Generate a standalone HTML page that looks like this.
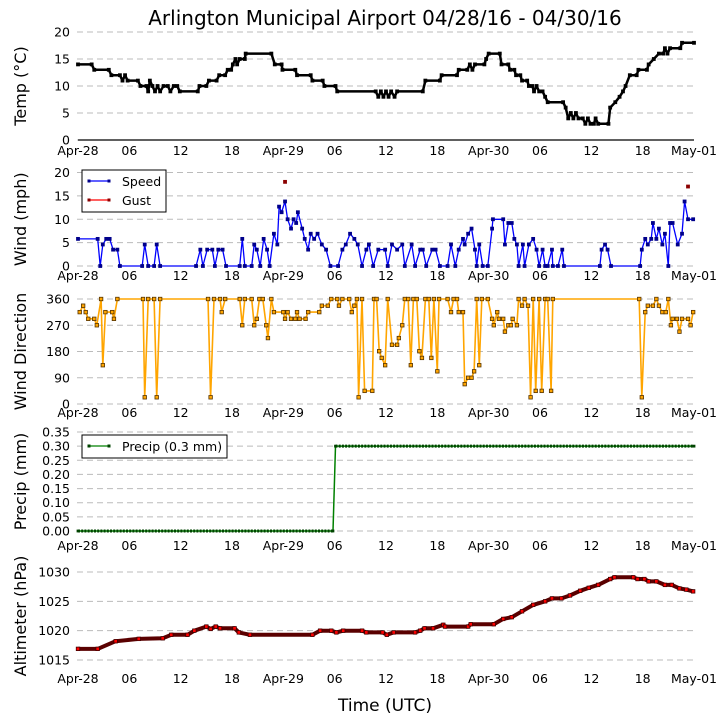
<!DOCTYPE html>
<html><head><meta charset="utf-8">
<style>
body{margin:0;background:#fff;}
svg{display:block;font-family:"DejaVu Sans","Liberation Sans",sans-serif;}
</style></head>
<body>
<svg id="chart" width="727" height="725" viewBox="0 0 727 725">
<text x="385" y="25" font-size="20" text-anchor="middle">Arlington Municipal Airport 04/28/16 - 04/30/16</text>
<text x="385" y="711" font-size="17" text-anchor="middle">Time (UTC)</text>
</svg>
<script>
const xTickLabels = ["Apr-28","06","12","18","Apr-29","06","12","18","Apr-30","06","12","18","May-01"];
const tempTicks = [0,5,10,15,20];
const windTicks = [0,5,10,15,20];
const dirTicks = [0,90,180,270,360];
const precipTicks = [0,0.05,0.10,0.15,0.20,0.25,0.30,0.35];
const altTicks = [1015,1020,1025,1030];

const tempT = [0,1.6,1.9,3.6,3.9,4.9,5.2,5.5,5.8,7.0,7.3,8.0,8.2,8.4,8.7,9.0,9.3,9.6,10.0,10.5,10.8,11.2,11.6,11.9,14.0,14.2,15.0,15.3,16.2,16.5,17.2,17.5,17.9,18.1,18.4,18.6,18.9,19.5,19.6,22.6,23.0,23.8,23.9,25.4,25.6,27.2,27.4,28.6,28.8,30.1,30.3,34.8,35.1,35.4,35.7,36.0,36.3,36.6,37.0,37.3,40.3,40.6,42.3,42.5,44.3,44.5,45.5,45.8,46.1,46.4,47.5,47.7,48.0,49.3,49.5,50.3,50.5,51.0,51.2,51.7,51.9,52.5,52.7,53.1,53.3,53.6,53.9,54.3,54.6,54.9,56.7,57.0,57.3,57.6,57.9,58.2,58.5,59.0,59.3,59.6,59.9,60.3,60.5,60.8,62.0,62.2,62.8,63.3,63.7,64.0,64.5,65.3,65.5,66.5,66.7,67.3,67.9,68.4,68.6,68.9,69.2,70.4,70.6,72.0];
const tempV = [14,14,13,13,12,12,11,12,11,11,10,10,9,11,10,9,10,9,10,10,9,10,10,9,9,10,10,11,11,12,12,13,13,14,15,14,15,15,16,16,14,14,13,13,12,12,11,11,10,10,9,9,8,9,8,9,8,9,8,9,9,11,11,12,12,13,13,14,13,14,14,15,16,16,14,14,13,13,12,12,11,11,10,10,9,10,9,9,8,7,7,6,4,5,4,5,4,4,3,4,3,3,4,3,3,6,7,8,9,10,12,12,13,13,14,15,16,16,17,16,17,17,18,18];

const windT = [0,2.3,2.6,2.9,3.3,3.7,4.1,4.6,4.9,7.5,7.8,8.2,8.9,9.2,9.6,13.8,14.3,14.6,15.1,15.7,16.0,16.4,16.9,17.3,18.9,19.2,19.5,20.3,20.6,20.9,21.3,21.7,22.1,22.4,22.9,23.3,23.5,23.8,24.2,24.5,24.9,25.2,25.5,25.7,26.2,26.5,26.9,27.2,27.6,28.0,28.5,29.0,29.5,30.4,30.9,31.3,31.8,32.3,32.7,33.2,33.7,34.0,34.5,35.1,35.9,36.2,36.7,37.3,37.9,38.2,39.0,39.4,40.0,40.3,40.7,41.4,41.8,42.3,43.2,43.6,44.1,44.5,45.0,45.2,45.6,46.0,46.4,46.6,46.9,47.3,47.9,48.4,48.5,49.7,49.9,50.3,50.7,51.0,51.3,51.5,52.0,52.2,52.7,53.2,53.6,53.9,54.3,54.6,54.9,55.4,55.5,56.1,56.6,56.8,61.0,61.2,61.6,61.9,62.3,65.7,65.9,66.3,66.6,67.0,67.2,67.6,67.9,68.3,68.6,69.0,69.2,69.5,70.1,70.6,70.9,71.3,71.9];
const windV = [5.8,5.8,0,4.6,5.8,5.8,3.5,3.5,0,0,4.6,0,0,4.6,0,0,3.5,0,3.5,3.5,0,3.5,3.5,0,0,5.8,0,0,4.6,3.5,0,5.8,3.5,0,6.9,4.6,12.7,11.5,13.8,10,8,10,9.2,11.5,8,5.8,3.5,6.9,5.8,6.9,4.6,3.5,0,0,3.5,4.6,6.9,5.8,4.6,0,3.5,4.6,0,3.5,3.5,0,4.6,3.5,4.6,0,4.6,0,3.5,3.5,0,3.5,3.5,0,0,4.6,0,3.5,5.8,4.6,6.9,8,3.5,0,4.6,0,0,8,10,10,4.6,9.2,9.2,5.8,4.6,0,4.6,0,4.6,5.8,3.5,0,3.5,0,0,3.5,0,0,3.5,0,0,3.5,4.6,3.5,0,0,3.5,5.8,4.6,5.8,9.2,5.8,8,4.6,6.9,0,9.2,9.2,4.6,6.9,13.8,10,10];
const gustT = [24.2,71.3];
const gustV = [18,17];

const dirT = [0.2,0.6,0.9,1.2,1.9,2.2,2.7,2.9,3.2,4.0,4.2,4.6,7.6,7.8,8.2,8.9,9.2,9.6,15.2,15.5,15.9,16.6,16.8,17.2,18.9,19.2,19.5,20.3,20.6,20.9,21.2,21.6,22.0,22.2,22.6,22.9,24.0,24.2,24.5,24.9,25.4,25.6,25.9,26.6,26.9,28.2,28.5,29.2,29.6,30.3,30.5,30.9,31.7,32.0,32.3,32.6,32.8,33.2,33.5,34.4,34.6,34.9,35.2,35.5,35.9,36.2,36.7,37.3,37.5,37.9,38.2,38.6,38.9,39.2,39.6,39.9,40.2,40.6,41.0,41.3,41.6,42.0,42.2,43.2,43.6,43.9,44.3,44.5,45.0,45.2,45.6,46.0,46.3,46.6,46.9,47.2,47.9,48.4,48.6,49.0,49.2,49.7,49.9,50.3,50.6,50.8,51.3,51.5,51.9,52.2,52.6,52.9,53.2,53.5,53.9,54.2,54.6,54.9,55.3,55.5,65.6,65.9,66.3,66.6,67.2,67.6,67.9,68.3,68.7,69.0,69.3,69.5,70.0,70.3,70.6,71.3,71.6,71.9];
const dirV = [315,337,315,292,292,270,360,133,315,315,292,360,360,23,360,360,23,360,360,23,360,360,315,360,360,270,360,360,270,292,360,360,270,226,360,315,315,292,315,292,292,315,292,292,315,315,337,337,360,360,337,360,360,315,337,360,23,360,45,45,360,360,181,158,133,360,203,203,226,270,360,360,133,360,360,181,158,360,360,158,360,112,360,360,315,360,360,315,315,68,90,90,112,360,133,360,360,292,270,315,292,292,248,270,270,292,270,360,337,360,337,23,360,45,360,45,360,360,45,360,360,23,315,337,337,360,337,315,315,360,270,292,292,248,292,292,270,315];

const precipT = [0,29.8,30.1,72];
const precipV = [0,0,0.30,0.30];

const altT = [0,2.3,4.4,7.1,9.9,10.9,12.8,13.6,15.0,15.5,16.1,16.6,18.3,18.8,20.1,27.4,28.3,29.6,30.2,31.0,33.2,33.7,35.6,36.1,36.9,39.4,40.0,40.5,41.5,42.7,42.9,45.6,45.9,48.6,49.7,50.7,51.9,53.2,54.6,55.4,56.5,57.5,58.7,59.7,60.8,62.2,62.7,64.9,65.4,66.2,66.7,67.6,68.6,69.4,70.3,71.1,71.9];
const altV = [1016.9,1016.9,1018.2,1018.6,1018.7,1019.3,1019.3,1020.0,1020.7,1020.3,1020.7,1020.4,1020.4,1019.7,1019.3,1019.3,1020.0,1020.0,1019.7,1020.0,1020.0,1019.7,1019.7,1019.3,1019.7,1019.7,1020.0,1020.4,1020.4,1021.0,1020.7,1020.7,1021.1,1021.1,1022.0,1022.3,1023.3,1024.4,1025.0,1025.5,1025.5,1026.0,1026.8,1027.3,1027.8,1028.8,1029.1,1029.1,1028.8,1028.8,1028.4,1028.4,1027.8,1027.8,1027.2,1027.0,1026.7];

const svg = document.getElementById('chart');
const NS = 'http://www.w3.org/2000/svg';
const X0 = 78, X1 = 694, HMAX = 72;
function xs(h){ return X0 + (X1 - X0) * h / HMAX; }
function mk(tag, attrs, parent){
  const e = document.createElementNS(NS, tag);
  for (const k in attrs) e.setAttribute(k, attrs[k]);
  (parent || svg).appendChild(e);
  return e;
}
function panel(key, yTop, yBot, vMin, vMax, ticks, fmt, label, tickY, spine){
  const g = mk('g', {});
  
  
  const ys = v => yBot - (v - vMin) / (vMax - vMin) * (yBot - yTop);
  ticks.forEach(t => {
    const y = ys(t);
    const gl = mk('line', {x1: 77, x2: X1, y1: y, y2: y, stroke: '#bbb', 'stroke-width': 1, 'stroke-dasharray': '6,4'}, g);
    
    
    const tl = mk('text', {x: 70, y: y + 4.5, 'font-size': 12.5, 'text-anchor': 'end'}, g);
    tl.textContent = fmt(t);
    
    
  });
  if (spine) {
    const sp = mk('line', {x1: 78, x2: X1, y1: yBot, y2: yBot, stroke: '#000', 'stroke-width': 1.2}, g);
    
    
  }
  xTickLabels.forEach((lab, i) => {
    const tx = mk('text', {x: xs(i * 6), y: tickY, 'font-size': 12.5, 'text-anchor': 'middle'}, g);
    tx.textContent = lab;
    
    
  });
  const cy = (yTop + yBot) / 2;
  const yl = mk('text', {x: 26, y: cy, 'font-size': 16, 'text-anchor': 'middle', transform: 'rotate(-90 26 ' + cy + ')'}, g);
  yl.textContent = label;
  
  
  return {g, ys};
}
function series(p, key, T, V, color, width, mfill, mstroke, msize){
  const pts = T.map((t, i) => xs(t).toFixed(1) + ',' + p.ys(V[i]).toFixed(1)).join(' ');
  if (width > 0) {
    const pl = mk('polyline', {points: pts, fill: 'none', stroke: color, 'stroke-width': width, 'stroke-linejoin': 'round'}, p.g);
    
    
  }
  T.forEach((t, i) => {
    const r = mk('rect', {x: xs(t) - msize / 2, y: p.ys(V[i]) - msize / 2, width: msize, height: msize, fill: mfill, stroke: mstroke, 'stroke-width': 0.8}, p.g);
    
    
  });
}

const pTemp = panel('temp', 32, 140, 0, 20, tempTicks, v => String(v), 'Temp (\u00B0C)', 155, true);
series(pTemp, 'temp', tempT, tempV, '#000', 2.5, '#000', '#000', 3);

const pWind = panel('wind', 172.5, 266, 0, 20, windTicks, v => String(v), 'Wind (mph)', 280, false);
series(pWind, 'wind-speed', windT, windV, '#0000ff', 1.3, '#00008b', '#00008b', 3);
series(pWind, 'wind-gust', gustT, gustV, '#ff0000', 0, '#8b0000', '#8b0000', 3);

const pDir = panel('direction', 299, 404, 0, 360, dirTicks, v => String(v), 'Wind Direction', 417, false);
series(pDir, 'wind-direction', dirT, dirV, '#ffa500', 1.6, '#ffa500', '#553300', 3.5);

const pPre = panel('precip', 432, 531, 0, 0.35, precipTicks, v => v.toFixed(2), 'Precip (mm)', 550, false);
series(pPre, 'precip', precipT, precipV, '#008000', 1.5, '#004400', '#004400', 2);
const hl = mk('polyline', {points: xs(0) + ',' + pPre.ys(0) + ' ' + xs(29.8) + ',' + pPre.ys(0), stroke: '#004400', 'stroke-width': 3, fill: 'none', 'stroke-dasharray': '2,1.2'}, pPre.g);


const hl2 = mk('polyline', {points: xs(30.1) + ',' + pPre.ys(0.30) + ' ' + xs(72) + ',' + pPre.ys(0.30), stroke: '#004400', 'stroke-width': 3, fill: 'none', 'stroke-dasharray': '2,1.2'}, pPre.g);



const pAlt = panel('altimeter', 572, 660, 1015, 1030, altTicks, v => String(v), 'Altimeter (hPa)', 683, false);
series(pAlt, 'altimeter', altT, altV, '#5a0000', 4, '#ff0000', '#400000', 3.5);

function legend(key, x, y, w, h, items){
  const g = mk('g', {});
  
  
  const b = mk('rect', {x, y, width: w, height: h, fill: '#fff', stroke: '#000', 'stroke-width': 1}, g);
  
  
  items.forEach((it, i) => {
    const yy = y + 11 + i * 19;
    const ln = mk('line', {x1: x + 7, x2: x + 27, y1: yy, y2: yy, stroke: it.c, 'stroke-width': 1.3}, g);
    
    
    [x + 7, x + 27].forEach(mx => {
      const r = mk('rect', {x: mx - 1.5, y: yy - 1.5, width: 3, height: 3, fill: it.m}, g);
      
      
    });
    const t = mk('text', {x: x + 40, y: yy + 5, 'font-size': 12.5}, g);
    t.textContent = it.t;
    
    
  });
}
legend('wind-legend', 82, 170, 84, 42, [{t: 'Speed', c: '#0000ff', m: '#00008b'}, {t: 'Gust', c: '#ff0000', m: '#8b0000'}]);
legend('precip-legend', 82, 435, 145, 23, [{t: 'Precip (0.3 mm)', c: '#008000', m: '#004400'}]);
</script>
</body></html>
